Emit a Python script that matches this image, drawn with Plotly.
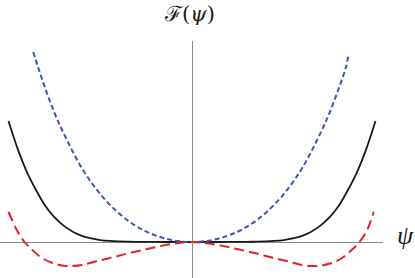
import plotly.graph_objects as go

# Black solid curve (critical case), read every 0.05
black_x = [-1.0, -0.95, -0.9, -0.85, -0.8, -0.75, -0.7, -0.65, -0.6, -0.55, -0.5, -0.45, -0.4, -0.35, -0.3,
           -0.25, -0.2, -0.1, 0.0, 0.1, 0.2, 0.25, 0.3, 0.35, 0.4, 0.45, 0.5, 0.55, 0.6, 0.65, 0.7,
           0.75, 0.8, 0.85, 0.9, 0.95, 1.0]
black_y = [1.0, 0.77, 0.58, 0.43, 0.30, 0.205, 0.135, 0.085, 0.05, 0.029, 0.016, 0.009, 0.005, 0.003, 0.0017,
           0.0008, 0.0003, 0.0, 0.0, 0.0, 0.0003, 0.0008, 0.0017, 0.003, 0.005, 0.009, 0.016, 0.029, 0.05, 0.085, 0.135,
           0.205, 0.30, 0.43, 0.58, 0.77, 1.0]

# Blue dashed curve (single well)
blue_x = [-0.865, -0.84, -0.8, -0.75, -0.7, -0.6, -0.5, -0.4, -0.3, -0.2, -0.1, 0.0,
          0.1, 0.2, 0.3, 0.4, 0.5, 0.6, 0.7, 0.75, 0.8, 0.84, 0.852]
blue_y = [1.57, 1.45, 1.27, 1.07, 0.90, 0.61, 0.396, 0.239, 0.127, 0.055, 0.013, 0.0,
          0.013, 0.055, 0.127, 0.239, 0.396, 0.61, 0.90, 1.07, 1.27, 1.45, 1.545]

# Red dashed curve (double well)
red_x = [-1.0, -0.955, -0.913, -0.87, -0.82, -0.76, -0.7, -0.65, -0.6, -0.52, -0.43, -0.34, -0.25, -0.16, -0.08, 0.0,
         0.08, 0.16, 0.25, 0.34, 0.43, 0.52, 0.6, 0.65, 0.7, 0.76, 0.82, 0.87, 0.913, 0.955, 0.99]
red_y = [0.25, 0.10, 0.0, -0.066, -0.13, -0.174, -0.196, -0.198, -0.19, -0.159, -0.126, -0.091, -0.06, -0.03, -0.01, 0.0,
         -0.01, -0.03, -0.06, -0.091, -0.126, -0.159, -0.19, -0.198, -0.196, -0.174, -0.13, -0.066, 0.0, 0.10, 0.25]

fig = go.Figure()
fig.add_trace(go.Scatter(x=black_x, y=black_y, mode="lines",
                         line=dict(color="#1a1a1a", width=1.8, shape="spline", smoothing=1.0)))
fig.add_trace(go.Scatter(x=blue_x, y=blue_y, mode="lines",
                         line=dict(color="#3a56b0", width=2, dash="5px,3px", shape="spline", smoothing=1.0)))
fig.add_trace(go.Scatter(x=red_x, y=red_y, mode="lines",
                         line=dict(color="#e3202a", width=2, dash="10px,5px", shape="spline", smoothing=1.0)))

fig.update_layout(
    width=415, height=278,
    margin=dict(l=0, r=32, t=41, b=0),
    paper_bgcolor="white", plot_bgcolor="white",
    showlegend=False,
    xaxis=dict(range=[-1.0463, 1.0409], showgrid=False, showticklabels=False, ticks="",
               zeroline=True, zerolinecolor="#8c8c8c", zerolinewidth=1.2, showline=False, fixedrange=True),
    yaxis=dict(range=[-0.2975, 1.661], showgrid=False, showticklabels=False, ticks="",
               zeroline=True, zerolinecolor="#8c8c8c", zerolinewidth=1.2, showline=False, fixedrange=True),
    annotations=[
        dict(text="ℱ(<i>ψ</i>)", xref="paper", yref="paper", x=189/383, y=1.0, yshift=27,
             showarrow=False, font=dict(family="DejaVu Serif", size=21, color="#1a1a1a"),
             xanchor="center", yanchor="middle"),
        dict(text="<i>ψ</i>", xref="paper", yref="paper", x=1.0, xshift=22, y=(278-235)/237,
             showarrow=False, font=dict(family="Liberation Serif", size=26, color="#1a1a1a"),
             xanchor="center", yanchor="middle"),
    ],
)

fig.write_html("out.html", config={"displayModeBar": False},
               post_script="document.body.style.margin='0';document.body.style.padding='0';")
